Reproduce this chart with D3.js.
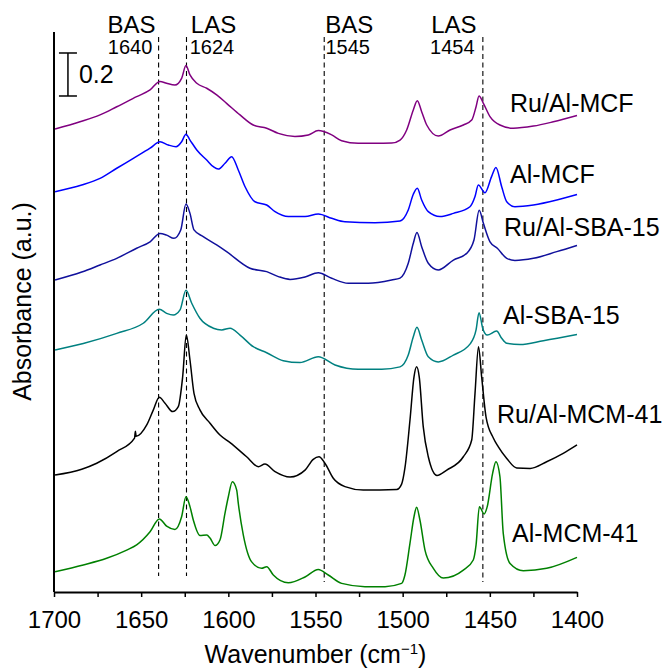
<!DOCTYPE html>
<html>
<head>
<meta charset="utf-8">
<script src="https://cdn.jsdelivr.net/npm/d3@7"></script>
<style>
  html, body { margin: 0; padding: 0; background: #fff; }
  svg { display: block; font-family: "Liberation Sans", Arial, Helvetica, sans-serif; }
</style>
</head>
<body>
<svg id="chart" width="662" height="668"></svg>
<script>
// Pyridine-adsorbed FTIR spectra, stacked (absorbance incl. vertical offset)
const seriesNames = ["Ru/Al-MCF", "Al-MCF", "Ru/Al-SBA-15", "Al-SBA-15", "Ru/Al-MCM-41", "Al-MCM-41"];
const seriesColors = ["#800080", "#0000ff", "#10109c", "#008080", "#000000", "#008000"];

// [wavenumber (cm-1), absorbance]
const ruAlMCF = [
  [1699.4,2.153],[1685.1,2.187],[1673.6,2.219],[1664.0,2.257],[1652.6,2.304],[1644.9,2.335],
  [1639.2,2.375],[1635.4,2.366],[1630.6,2.358],[1626.8,2.389],[1624.3,2.449],[1622.0,2.405],
  [1618.1,2.366],[1612.4,2.343],[1606.7,2.312],[1601.0,2.273],[1593.3,2.219],[1585.7,2.172],
  [1578.0,2.157],[1571.3,2.133],[1561.8,2.119],[1554.1,2.126],[1548.4,2.146],[1540.7,2.126],
  [1535.0,2.099],[1525.5,2.087],[1515.9,2.087],[1506.3,2.088],[1501.5,2.102],[1497.7,2.149],
  [1493.9,2.242],[1491.6,2.285],[1489.1,2.234],[1486.2,2.172],[1479.6,2.121],[1472.8,2.149],
  [1465.2,2.172],[1460.4,2.195],[1457.9,2.257],[1456.2,2.307],[1453.7,2.273],[1449.9,2.211],
  [1444.2,2.172],[1436.5,2.157],[1425.0,2.167],[1413.6,2.187],[1400.0,2.216]
];
const alMCF = [
  [1699.4,1.862],[1684.1,1.893],[1673.6,1.924],[1664.0,1.971],[1654.5,2.017],[1644.9,2.064],
  [1639.2,2.094],[1634.4,2.079],[1630.0,2.071],[1626.8,2.094],[1624.3,2.129],[1622.0,2.102],
  [1618.1,2.056],[1612.4,2.009],[1608.6,1.978],[1605.8,1.967],[1601.9,1.994],[1598.1,2.025],
  [1594.3,1.963],[1590.4,1.885],[1584.7,1.815],[1578.0,1.800],[1573.2,1.769],[1565.6,1.746],
  [1556.0,1.746],[1548.4,1.758],[1540.7,1.738],[1533.1,1.722],[1515.9,1.718],[1501.5,1.726],
  [1496.8,1.777],[1493.9,1.850],[1491.6,1.878],[1489.1,1.823],[1485.3,1.769],[1478.6,1.746],
  [1470.9,1.761],[1461.4,1.792],[1458.5,1.839],[1456.6,1.893],[1452.8,1.857],[1449.0,1.932],
  [1446.5,1.975],[1443.2,1.885],[1440.3,1.815],[1435.6,1.792],[1425.0,1.800],[1411.6,1.823],
  [1400.0,1.849]
];
const ruAlSBA15 = [
  [1699.4,1.451],[1684.1,1.488],[1673.6,1.521],[1664.0,1.552],[1652.6,1.599],[1644.9,1.629],
  [1639.2,1.668],[1635.4,1.660],[1631.2,1.645],[1627.3,1.684],[1624.3,1.805],[1622.0,1.761],
  [1619.7,1.684],[1614.4,1.653],[1606.7,1.614],[1601.0,1.583],[1587.6,1.506],[1578.0,1.490],
  [1571.3,1.467],[1564.6,1.454],[1556.0,1.465],[1548.4,1.485],[1540.7,1.459],[1531.2,1.436],
  [1519.7,1.436],[1506.3,1.451],[1501.5,1.460],[1496.8,1.529],[1493.9,1.622],[1491.8,1.672],
  [1489.1,1.606],[1485.3,1.529],[1479.6,1.498],[1470.9,1.544],[1463.3,1.575],[1459.1,1.637],
  [1456.1,1.775],[1453.7,1.715],[1449.9,1.629],[1445.7,1.599],[1440.3,1.552],[1435.6,1.542],
  [1425.0,1.552],[1411.6,1.583],[1400.0,1.612]
];
const alSBA15 = [
  [1699.4,1.126],[1683.2,1.156],[1664.0,1.203],[1648.8,1.250],[1639.6,1.315],[1635.4,1.296],
  [1631.6,1.288],[1627.7,1.312],[1624.3,1.403],[1621.0,1.343],[1616.3,1.273],[1608.6,1.227],
  [1603.8,1.219],[1599.0,1.227],[1593.3,1.195],[1585.7,1.141],[1578.0,1.113],[1568.5,1.076],
  [1558.9,1.067],[1548.4,1.094],[1538.8,1.056],[1525.5,1.036],[1512.0,1.036],[1501.5,1.047],
  [1496.8,1.102],[1493.9,1.187],[1491.8,1.231],[1489.1,1.172],[1485.3,1.094],[1479.6,1.070],
  [1470.9,1.102],[1461.4,1.153],[1457.9,1.219],[1456.2,1.299],[1454.1,1.227],[1451.5,1.195],
  [1446.1,1.214],[1443.2,1.180],[1440.3,1.157],[1432.7,1.151],[1419.3,1.169],[1400.0,1.198]
];
const ruAlMCM41 = [
  [1699.4,0.544],[1684.1,0.571],[1675.5,0.599],[1664.0,0.653],[1653.8,0.716],[1653.3,0.748],
  [1652.9,0.724],[1646.8,0.777],[1643.0,0.847],[1639.6,0.906],[1636.3,0.878],[1631.9,0.839],
  [1628.7,0.862],[1626.2,1.001],[1624.1,1.195],[1622.0,1.079],[1619.7,0.924],[1616.3,0.847],
  [1610.5,0.785],[1604.8,0.730],[1599.0,0.695],[1589.5,0.629],[1582.8,0.583],[1579.0,0.595],
  [1573.2,0.560],[1564.6,0.535],[1556.0,0.567],[1551.3,0.617],[1548.0,0.629],[1544.6,0.599],
  [1539.8,0.529],[1533.1,0.490],[1522.6,0.474],[1503.4,0.477],[1500.6,0.502],[1498.7,0.577],
  [1495.8,0.800],[1493.5,1.001],[1492.0,1.048],[1490.5,1.001],[1488.2,0.769],[1485.3,0.629],
  [1480.3,0.542],[1474.7,0.567],[1465.2,0.629],[1460.4,0.707],[1458.5,0.924],[1456.5,1.141],
  [1454.7,1.001],[1452.2,0.815],[1448.0,0.716],[1445.2,0.676],[1440.3,0.621],[1434.6,0.577],
  [1426.9,0.575],[1417.4,0.606],[1407.9,0.645],[1400.0,0.684]
];
const alMCM41 = [
  [1699.4,0.094],[1683.2,0.126],[1669.8,0.157],[1658.3,0.195],[1652.6,0.219],[1644.9,0.280],
  [1639.6,0.340],[1635.4,0.306],[1630.6,0.291],[1626.8,0.350],[1624.3,0.443],[1622.0,0.397],
  [1620.1,0.335],[1616.3,0.263],[1612.4,0.265],[1610.5,0.251],[1607.6,0.216],[1604.8,0.242],
  [1601.9,0.367],[1600.0,0.443],[1597.7,0.513],[1595.2,0.474],[1594.3,0.413],[1591.4,0.265],
  [1586.6,0.140],[1580.9,0.110],[1578.0,0.118],[1574.2,0.079],[1565.6,0.043],[1556.0,0.070],
  [1548.4,0.105],[1542.7,0.079],[1535.0,0.040],[1521.6,0.025],[1510.1,0.025],[1500.6,0.040],
  [1498.7,0.079],[1495.8,0.227],[1493.5,0.350],[1492.0,0.394],[1490.1,0.335],[1487.2,0.195],
  [1482.4,0.110],[1476.7,0.065],[1465.2,0.102],[1459.5,0.149],[1457.9,0.219],[1456.0,0.397],
  [1453.3,0.363],[1451.5,0.397],[1448.4,0.552],[1446.5,0.606],[1444.2,0.536],[1442.3,0.273],
  [1438.4,0.133],[1430.8,0.099],[1417.4,0.110],[1400.0,0.161]
];
const spectra = [ruAlMCF, alMCF, ruAlSBA15, alSBA15, ruAlMCM41, alMCM41];

// Axis ticks
const xTicks = [1700, 1650, 1600, 1550, 1500, 1450, 1400];
const xMinorTicks = [1675, 1625, 1575, 1525, 1475, 1425];

// Acid-site reference bands
const bandWavenumbers = [1640, 1624, 1545, 1454];
const bandTypes = ["BAS", "LAS", "BAS", "LAS"];

// Absorbance scale bar
const scaleBarSpan = 0.2;
const scaleBarBase = 2.307;
const scaleBarWavenumber = 1692;

// ---- layout ----
const svg = d3.select("#chart");
const plot = { left: 54, right: 577, top: 33, bottom: 592 };
const x = d3.scaleLinear().domain([1700, 1400]).range([plot.left, plot.right]);
const y = d3.scaleLinear().domain([0, 2.6]).range([plot.bottom, plot.top]);

// series label placement (left x, baseline y)
const labelPos = [[510, 112], [510, 183], [504, 236], [503, 324], [497, 423], [512, 542]];
// band label centre offsets from their dashed line, and dashed line bottoms
const bandLabelOffset = [-27, 27, 25, -29];
const bandBottom = [576, 576, 582, 582];

// dashed reference lines
bandWavenumbers.forEach((w, i) => {
  svg.append("line")
    .attr("x1", x(w)).attr("x2", x(w))
    .attr("y1", 37).attr("y2", bandBottom[i])
    .attr("stroke", "#000").attr("stroke-width", 1.1)
    .attr("stroke-dasharray", "5,3.5");
  const cx = x(w) + bandLabelOffset[i];
  svg.append("text").attr("x", cx).attr("y", 33)
    .attr("text-anchor", "middle").attr("font-size", 24).text(bandTypes[i]);
  svg.append("text").attr("x", cx - 1.5).attr("y", 54)
    .attr("text-anchor", "middle").attr("font-size", 20).text(String(w));
});

// spectra
const line = d3.line().x(d => x(d[0])).y(d => y(d[1])).curve(d3.curveMonotoneX);
spectra.forEach((s, i) => {
  svg.append("path").datum(s)
    .attr("d", line)
    .attr("fill", "none")
    .attr("stroke", seriesColors[i])
    .attr("stroke-width", 1.5)
    .attr("stroke-linejoin", "round");
  svg.append("text")
    .attr("x", labelPos[i][0]).attr("y", labelPos[i][1])
    .attr("font-size", 25).attr("fill", "#000")
    .text(seriesNames[i]);
});

// axes
const gx = svg.append("g").attr("transform", `translate(0,${plot.bottom})`)
  .call(d3.axisBottom(x).tickValues(xTicks).tickSize(5).tickSizeOuter(0).tickFormat(d3.format("d")));
const gxMinor = svg.append("g").attr("transform", `translate(0,${plot.bottom})`)
  .call(d3.axisBottom(x).tickValues(xMinorTicks).tickSize(5).tickSizeOuter(0).tickFormat(""));
gxMinor.select(".domain").remove();
[gx, gxMinor].forEach(g => {
  g.attr("font-family", null).attr("font-size", null);
  g.selectAll(".tick line").attr("stroke", "#000").attr("stroke-width", 1.5);
});
gx.select(".domain").attr("stroke", "#000").attr("stroke-width", 2);
gx.selectAll(".tick text").attr("font-size", 24).attr("fill", "#000").attr("y", 19).attr("dy", "0.71em");

svg.append("line")
  .attr("x1", plot.left).attr("x2", plot.left)
  .attr("y1", plot.top - 1).attr("y2", plot.bottom)
  .attr("stroke", "#000").attr("stroke-width", 2);

// axis titles
const xt = svg.append("text")
  .attr("x", (plot.left + plot.right) / 2).attr("y", 663)
  .attr("text-anchor", "middle").attr("font-size", 25);
xt.append("tspan").text("Wavenumber (cm");
xt.append("tspan").attr("font-size", 15).attr("dy", -9).text("\u22121");
xt.append("tspan").attr("dy", 9).text(")");

svg.append("text")
  .attr("transform", `translate(31,${(plot.top + plot.bottom) / 2 - 11}) rotate(-90)`)
  .attr("text-anchor", "middle").attr("font-size", 25)
  .text("Absorbance (a.u.)");

// scale bar
const sbx = x(scaleBarWavenumber);
const sb = svg.append("g").attr("stroke", "#000").attr("stroke-width", 1.5);
sb.append("line").attr("x1", sbx).attr("x2", sbx)
  .attr("y1", y(scaleBarBase)).attr("y2", y(scaleBarBase + scaleBarSpan));
[scaleBarBase, scaleBarBase + scaleBarSpan].forEach(v => {
  sb.append("line").attr("x1", sbx - 9).attr("x2", sbx + 9).attr("y1", y(v)).attr("y2", y(v));
});
svg.append("text").attr("x", sbx + 11).attr("y", y(scaleBarBase + scaleBarSpan / 2) + 8.5)
  .attr("font-size", 25).text(String(scaleBarSpan));
</script>
</body>
</html>
